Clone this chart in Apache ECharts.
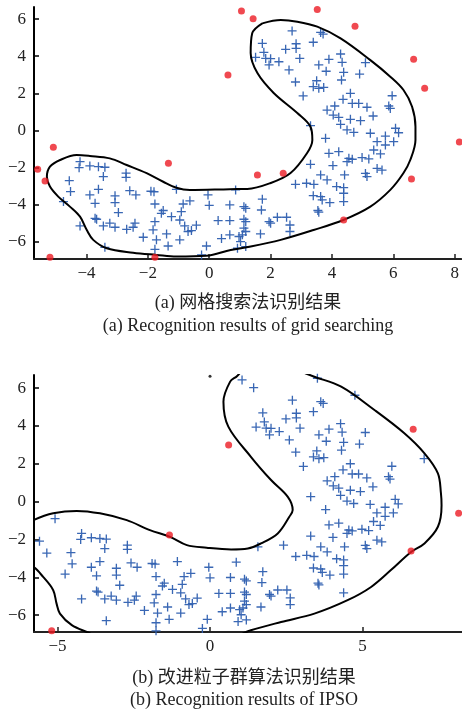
<!DOCTYPE html>
<html>
<head>
<meta charset="utf-8">
<script src="https://cdn.jsdelivr.net/npm/echarts@6/dist/echarts.min.js"></script>
<style>
html,body{margin:0;padding:0;background:#fff;}
#c{width:462px;height:715px;}
</style>
</head>
<body>
<div id="c"></div>
<script>
// ---- data ----
// normal samples (blue "+") in both results
const normalPts = [
[2.70,5.36],[3.63,5.28],[3.71,5.19],[1.73,4.69],[2.83,4.67],[3.39,4.75],[2.49,4.37],[2.83,4.42],[1.78,4.21],[4.28,4.12],
[1.51,3.94],[1.84,3.88],[2.00,3.87],[2.27,3.70],[2.95,3.88],[3.90,3.83],[4.33,3.67],[5.09,3.65],[1.95,3.53],[3.57,3.53],
[2.60,3.26],[3.81,3.19],[4.38,3.13],[4.90,3.04],[2.81,2.61],[3.50,2.68],[4.31,2.72],[3.39,2.36],[3.57,2.27],[3.73,2.32],
[4.60,2.00],[5.96,1.87],[3.06,1.86],[4.36,1.68],[4.66,1.46],[4.87,1.46],[5.85,1.32],[5.90,1.19],[4.09,1.32],[5.14,1.25],
[3.84,1.10],[4.04,0.83],[4.22,0.71],[5.34,0.78],[4.60,0.60],[4.93,0.53],[4.28,0.33],[3.30,0.26],[4.49,0.03],[4.71,-0.10],
[5.25,-0.15],[6.07,0.12],[6.17,-0.12],[5.74,-0.30],[3.79,-0.42],
[5.47,-0.60],[5.74,-0.78],[6.01,-0.60],[3.90,-1.23],[4.22,-1.14],[4.55,-1.50],[4.66,-1.55],[4.49,-1.68],[4.98,-1.46],[5.20,-1.53],
[5.36,-1.05],[5.58,-1.26],[3.30,-1.82],[4.03,-1.89],[5.47,-2.04],[5.63,-2.13],[3.63,-2.39],[3.84,-2.66],[4.41,-2.39],[5.09,-2.31],
[5.14,-2.48],[2.81,-2.90],[3.17,-2.84],[3.41,-2.90],[4.15,-3.02],[4.38,-3.08],[4.38,-3.38],[4.38,-3.83],[3.39,-3.51],[3.63,-3.56],
[3.68,-3.74],[3.93,-3.88],[3.54,-4.31],[3.57,-4.40],[1.73,-3.70],[1.70,-4.28],[0.86,-3.20],[1.13,-4.10],[1.19,-4.19],[2.22,-4.67],
[2.52,-4.67],[1.95,-4.91],[2.00,-4.99],[2.63,-5.09],[2.63,-5.44],[1.67,-5.57],[1.13,-4.78],[1.19,-4.91],[1.13,-5.26],[1.19,-5.44],
[1.08,-5.62],[0.97,-5.71],[1.02,-5.98],[1.19,-6.25],[0.92,-6.34],
[-4.21,-1.68],[-4.24,-2.00],[-3.89,-1.91],[-3.61,-1.95],[-3.40,-1.98],[-3.45,-2.48],[-2.71,-2.30],[-2.71,-2.52],[-4.56,-2.70],[-4.52,-3.29],
[-3.61,-3.17],[-3.89,-3.47],[-2.59,-3.24],[-2.39,-3.47],[-1.90,-3.27],[-1.80,-3.30],[-1.07,-3.17],[-4.75,-3.83],[-3.72,-3.92],[-3.07,-3.52],
[-3.07,-3.88],[-1.77,-3.96],[-0.85,-3.96],[-0.63,-3.79],[-0.04,-3.47],[0.00,-4.03],[0.67,-4.01],[-4.21,-5.14],[-3.72,-4.73],[-3.67,-4.78],
[-2.96,-4.42],[-3.24,-4.99],[-3.45,-5.14],[-3.07,-5.21],[-2.69,-5.32],[-2.42,-4.99],[-2.48,-5.21],[-1.77,-4.91],[-1.83,-5.35],[-1.56,-4.46],
[-1.50,-4.31],[-1.23,-4.64],[-1.39,-5.57],[-0.91,-4.37],[-0.96,-4.82],[-0.80,-5.14],[-0.69,-5.44],[-0.58,-5.39],[-0.42,-5.10],[0.29,-4.85],
[0.67,-4.85],[0.40,-5.82],[0.67,-5.62],[-2.15,-5.75],[-1.72,-5.89],[-0.96,-5.89],[-1.34,-6.22],[-3.40,-6.29],[-1.77,-6.40],[-0.09,-6.22],
[-0.25,-6.70]
];
// flagged as outliers by grid searching only (normal in IPSO result)
const gridOnlyOutliers = [
[1.05,6.43],[1.43,6.02],[3.52,6.52],[4.75,5.62],[7.02,2.27],[4.38,-4.82],
[2.41,-2.30],[1.57,-2.39],[-5.08,-0.90],[-5.59,-2.09],[-5.35,-2.72],[-1.77,-6.83]
];
// flagged as outliers by both methods
const bothOutliers = [
[0.61,2.99],[6.66,3.83],[8.15,-0.62],[6.59,-2.61],[-1.33,-1.77],[-5.19,-6.83]
];
// decision boundaries
const boundaryGrid = [
[1.73,5.77],[2.33,5.95],[2.87,5.86],[3.52,5.59],[4.28,4.96],[5.25,3.79],[5.90,2.90],[6.33,2.18],[6.61,1.28],[6.72,0.20],
[6.72,-0.51],[6.55,-1.59],[6.33,-2.29],[5.90,-3.20],[5.25,-4.10],[4.37,-4.82],[3.40,-5.36],[2.33,-5.89],[1.35,-6.25],[0.70,-6.43],
[-0.09,-6.75],[-1.07,-6.79],[-1.72,-6.70],[-2.48,-6.58],[-3.34,-6.34],[-3.78,-5.89],[-3.99,-5.36],[-4.21,-4.64],[-4.54,-4.10],[-4.92,-3.56],
[-5.19,-3.02],[-5.29,-2.49],[-5.19,-1.95],[-4.86,-1.59],[-4.32,-1.32],[-3.89,-1.37],[-3.24,-1.50],[-2.69,-1.86],[-2.04,-2.30],[-1.50,-2.76],
[-1.07,-3.08],[-0.63,-3.20],[0.67,-3.16],[1.24,-3.15],[2.00,-2.83],[2.65,-2.29],[3.19,-1.21],[3.36,-0.51],[3.30,0.20],[2.87,0.94],
[2.10,2.02],[1.57,3.09],[1.35,4.17],[1.40,5.23],[1.73,5.77]
];
const boundaryIPSO = [
[1.3,7.4],[0.89,6.64],[0.66,6.34],[0.44,5.28],[0.60,3.96],[1.34,2.37],[2.00,1.14],[2.55,0.25],[2.71,-0.45],[2.60,-0.80],
[2.22,-1.68],[1.67,-2.21],[1.24,-2.48],[0.69,-2.53],[-0.11,-2.44],[-0.76,-2.30],[-1.31,-1.86],[-1.97,-1.51],[-2.73,-0.98],[-3.61,-0.62],
[-4.37,-0.49],[-5.14,-0.62],[-5.79,-0.98],[-6.4,-1.5],[-6.7,-2.5],[-6.4,-3.0],[-5.79,-3.45],[-5.47,-3.98],[-5.14,-4.68],[-5.03,-5.39],
[-4.92,-5.92],[-4.53,-6.53],[-4.04,-6.89],[-3.4,-7.3],[-1.0,-7.6],[0.7,-7.2],[1.34,-6.80],[2.33,-6.36],[3.42,-5.92],[4.51,-5.21],
[5.28,-4.51],[5.93,-3.62],[6.59,-2.66],[7.03,-2.21],[7.47,-1.33],[7.59,-0.19],[7.57,0.43],[7.47,1.49],[7.03,2.55],[6.37,3.61],
[5.39,4.84],[4.30,6.07],[3.42,6.60],[2.6,7.1],[1.8,7.5],[1.3,7.4]
];
const ipsoDots = [[0.0,6.62]];
// tick labels
const xTicksA = [-4,-2,0,2,4,6,8];
const xTicksB = [-5,0,5];
const yTicks = [-6,-4,-2,0,2,4,6];
const captionA = ['(a) 网格搜索法识别结果','(a) Recognition results of grid searching'];
const captionB = ['(b) 改进粒子群算法识别结果','(b) Recognition results of IPSO'];

// ---- chart ----
const FONT = '"Liberation Serif","Noto Sans CJK SC",serif';
const plusPath = 'path://M6.4,0h2.2v6.4h6.4v2.2h-6.4v6.4h-2.2v-6.4h-6.4v-2.2h6.4z';
const fmt = v => String(v).replace('-', '\u2212');

function xAxis(gi, min, max, ticks) {
  return {
    type:'value', gridIndex:gi, min:min, max:max,
    axisLine:{show:true, onZero:false, lineStyle:{color:'#222', width:2}},
    axisTick:{show:true, inside:true, length:5, customValues:ticks, lineStyle:{color:'#222', width:1.5}},
    axisLabel:{customValues:ticks, formatter:fmt, fontFamily:FONT, fontSize:17, color:'#222', margin:6},
    splitLine:{show:false}
  };
}
function yAxis(gi, min, max) {
  return {
    type:'value', gridIndex:gi, min:min, max:max,
    axisLine:{show:true, onZero:false, lineStyle:{color:'#000', width:2}},
    axisTick:{show:true, inside:true, length:5, customValues:yTicks, lineStyle:{color:'#000', width:1.5}},
    axisLabel:{customValues:yTicks, formatter:fmt, fontFamily:FONT, fontSize:17, color:'#222', margin:8},
    splitLine:{show:false}
  };
}
function blue(gi, data) {
  return {type:'scatter', xAxisIndex:gi, yAxisIndex:gi, data:data, symbol:plusPath, symbolSize:9,
    itemStyle:{color:'#2e5fb0', opacity:0.95}, z:3, silent:true};
}
function red(gi, data) {
  return {type:'scatter', xAxisIndex:gi, yAxisIndex:gi, data:data, symbol:'circle', symbolSize:7,
    itemStyle:{color:'#ec1c24'}, z:5, silent:true};
}
function boundary(gi, data) {
  return {type:'line', xAxisIndex:gi, yAxisIndex:gi, data:data, smooth:0.35, symbol:'none', clip:true,
    lineStyle:{color:'#000', width:2}, z:4, silent:true};
}

const chart = echarts.init(document.getElementById('c'), null, {renderer:'canvas'});
chart.setOption({
  animation:false,
  backgroundColor:'#fff',
  grid:[
    {left:34, top:7, right:0, height:252},
    {left:34, top:375, right:0, height:257}
  ],
  xAxis:[xAxis(0,-5.71,8.21,xTicksA), xAxis(1,-5.77,8.26,xTicksB)],
  yAxis:[yAxis(0,-6.92,6.65), yAxis(1,-6.89,6.69)],
  series:[
    blue(0, normalPts),
    boundary(0, boundaryGrid),
    red(0, gridOnlyOutliers.concat(bothOutliers)),
    blue(1, normalPts.concat(gridOnlyOutliers)),
    boundary(1, boundaryIPSO),
    {type:'scatter', xAxisIndex:1, yAxisIndex:1, data:ipsoDots, symbol:'circle', symbolSize:3, itemStyle:{color:'#000'}, silent:true},
    red(1, bothOutliers)
  ],
  graphic:[
    {type:'text', x:248, y:303, style:{text:captionA[0], font:'18px '+FONT, fill:'#222', align:'center', verticalAlign:'middle'}},
    {type:'text', x:248, y:326, style:{text:captionA[1], font:'18px '+FONT, fill:'#222', align:'center', verticalAlign:'middle'}},
    {type:'text', x:244, y:678, style:{text:captionB[0], font:'18px '+FONT, fill:'#222', align:'center', verticalAlign:'middle'}},
    {type:'text', x:244, y:700, style:{text:captionB[1], font:'18px '+FONT, fill:'#222', align:'center', verticalAlign:'middle'}}
  ]
});
</script>
</body>
</html>
